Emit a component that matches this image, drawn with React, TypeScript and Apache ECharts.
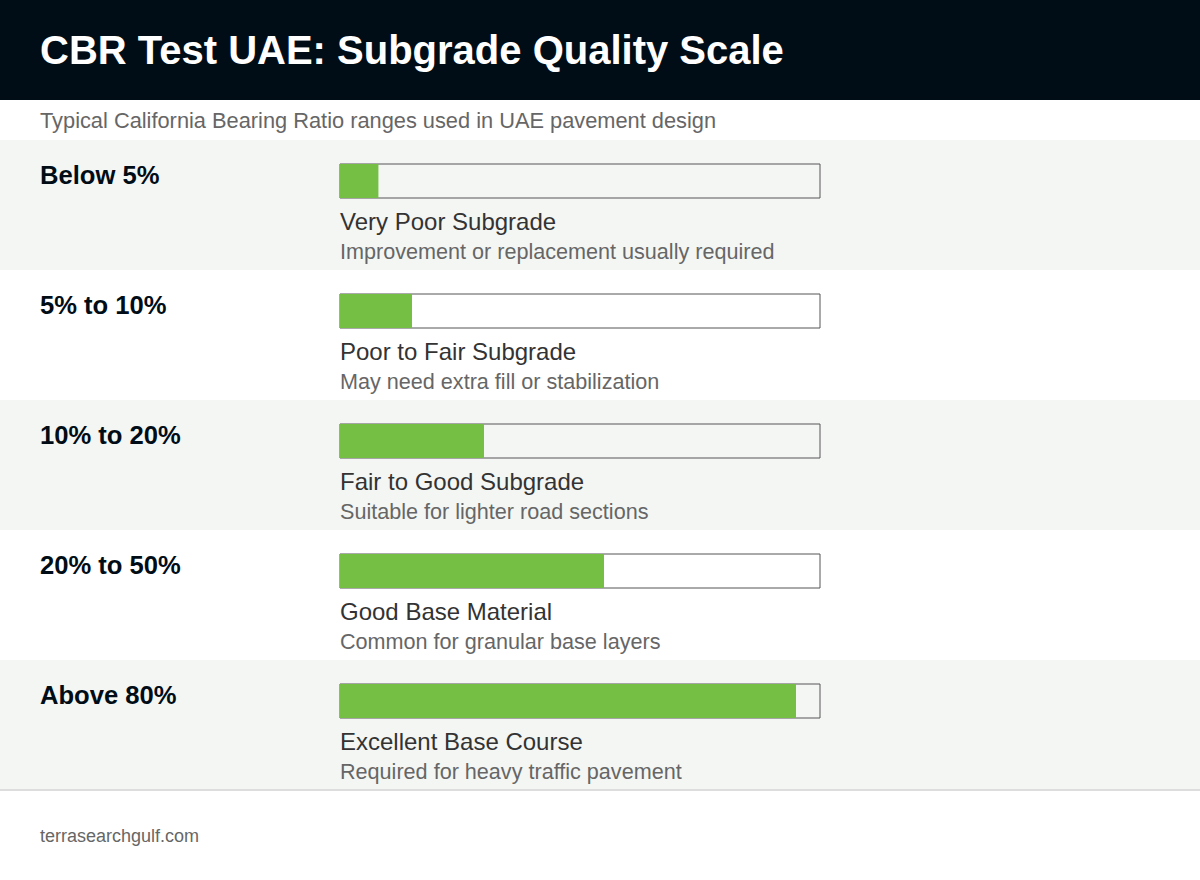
import React, { useEffect, useRef } from "react";
import * as echarts from "echarts";

const ranges = ["Below 5%", "5% to 10%", "10% to 20%", "20% to 50%", "Above 80%"];
const grades = [
  "Very Poor Subgrade",
  "Poor to Fair Subgrade",
  "Fair to Good Subgrade",
  "Good Base Material",
  "Excellent Base Course",
];
const notes = [
  "Improvement or replacement usually required",
  "May need extra fill or stabilization",
  "Suitable for lighter road sections",
  "Common for granular base layers",
  "Required for heavy traffic pavement",
];
const scores = [8, 15, 30, 55, 95];

const FONT = "'Liberation Sans', Arial, Helvetica, sans-serif";

export default function App() {
  const chartRef = useRef<HTMLDivElement>(null);

  useEffect(() => {
    document.body.style.margin = "0";
    if (!chartRef.current) return;
    const chart = echarts.init(chartRef.current, undefined, { renderer: "svg" });

    const option: echarts.EChartsOption = {
      animation: false,
      backgroundColor: "#ffffff",
      grid: { left: 340, width: 480, top: 116, height: 650 },
      xAxis: { type: "value", min: 0, max: 100, show: false },
      yAxis: { type: "category", data: ranges, inverse: true, show: false },
      graphic: [
        {
          type: "rect",
          z: 10,
          shape: { x: 0, y: 0, width: 1200, height: 100 },
          style: { fill: "#010d16" },
        },
        {
          type: "text",
          z: 11,
          x: 40,
          y: 50,
          style: {
            text: "CBR Test UAE: Subgrade Quality Scale",
            fill: "#ffffff",
            font: `bold 40px ${FONT}`,
            verticalAlign: "middle",
          },
        },
        {
          type: "text",
          z: 11,
          x: 40,
          y: 120,
          style: {
            text: "Typical California Bearing Ratio ranges used in UAE pavement design",
            fill: "#666666",
            font: `21.8px ${FONT}`,
            verticalAlign: "middle",
          },
        },
        {
          type: "rect",
          z: 10,
          shape: { x: 0, y: 789, width: 1200, height: 2 },
          style: { fill: "#dddddd" },
        },
        {
          type: "text",
          z: 11,
          x: 40,
          y: 836,
          style: {
            text: "terrasearchgulf.com",
            fill: "#666666",
            font: `18px ${FONT}`,
            verticalAlign: "middle",
          },
        },
      ],
      series: [
        {
          type: "custom",
          z: 1,
          silent: true,
          data: ranges.map((_, i) => [0, i]),
          encode: { x: 0, y: 1 },
          renderItem: (params: any, api: any) => {
            const i = api.value(1);
            const [gx, yc] = api.coord([0, i]);
            const band = api.size([0, 1])[1];
            const top = yc - band / 2 + 24;
            return {
              type: "group",
              children: [
                {
                  type: "rect",
                  shape: { x: 0, y: top, width: api.getWidth(), height: band },
                  style: { fill: i % 2 === 0 ? "#f4f6f4" : "#ffffff" },
                },
                {
                  type: "text",
                  x: 40,
                  y: top + 35,
                  style: {
                    text: ranges[i],
                    fill: "#010d16",
                    font: `bold 25.6px ${FONT}`,
                    verticalAlign: "middle",
                  },
                },
                {
                  type: "text",
                  x: gx,
                  y: top + 81,
                  style: {
                    text: grades[i],
                    fill: "#333333",
                    font: `24px ${FONT}`,
                    verticalAlign: "middle",
                  },
                },
                {
                  type: "text",
                  x: gx,
                  y: top + 111,
                  style: {
                    text: notes[i],
                    fill: "#666666",
                    font: `21.6px ${FONT}`,
                    verticalAlign: "middle",
                  },
                },
              ],
            };
          },
        },
        {
          type: "bar",
          z: 3,
          data: scores,
          barWidth: 34,
          itemStyle: { color: "#74bf44" },
          showBackground: true,
          backgroundStyle: {
            color: "rgba(0,0,0,0)",
            borderColor: "#555555",
            borderWidth: 1,
          },
        },
      ],
    };

    chart.setOption(option);

    return () => {
      chart.dispose();
    };
  }, []);

  return <div ref={chartRef} style={{ width: 1200, height: 880 }} />;
}
